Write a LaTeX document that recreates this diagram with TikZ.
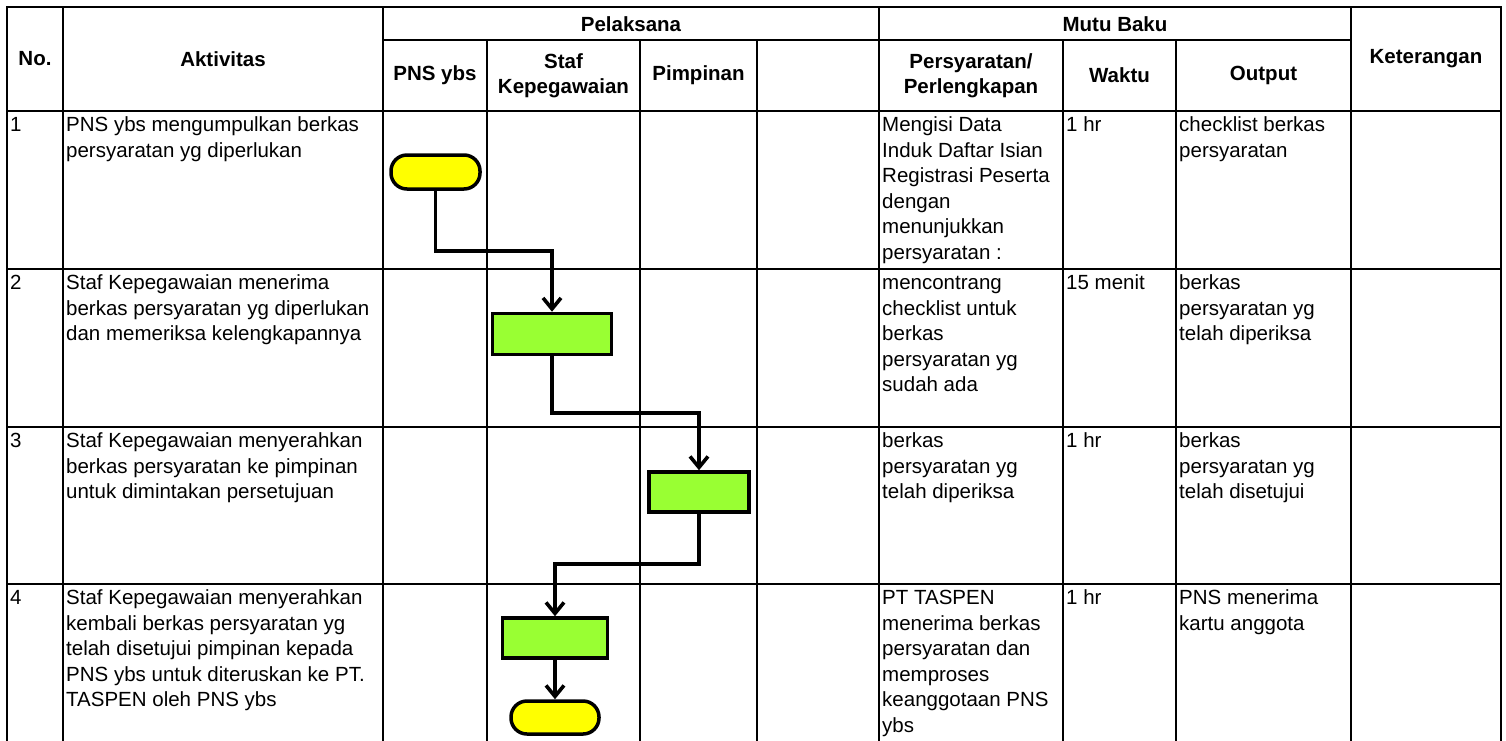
\documentclass[tikz,border=0pt]{standalone}
\usepackage{fontspec}
\setmainfont{Liberation Sans}
\usetikzlibrary{arrows.meta}
\definecolor{termyellow}{RGB}{255,255,0}
\definecolor{procgreen}{RGB}{153,255,51}
\newcommand{\cellbox}[1]{\parbox[t]{320pt}{#1}}
\begin{document}
\begin{tikzpicture}[x=1pt,y=-1pt,
  gridline/.style={line width=1.8pt, line cap=rect},
  hdr/.style={font=\fontsize{20.5}{25.5}\selectfont\bfseries, align=center, inner sep=0pt},
  cell/.style={anchor=base west, inner sep=0pt, font=\fontsize{20.5}{25.5}\selectfont},
  term/.style={draw, line width=3.5pt, fill=termyellow, rectangle, rounded corners=16pt, inner sep=0pt},
  proc/.style={draw, line width=3.5pt, fill=procgreen, rectangle, inner sep=0pt},
  conn/.style={line width=3.6pt, -{Straight Barb[length=11pt,width=18pt]}}
]
\useasboundingbox (0,0) rectangle (1506,740);
\fill[white] (0,0) rectangle (1506,740);

% grid
\draw[gridline] (7,7) -- (1501,7);
\draw[gridline] (383,40) -- (1351,40);
\foreach \yy in {111,269,427,584} \draw[gridline] (7,\yy) -- (1501,\yy);
\foreach \xx in {7,63,383,879,1351,1501} \draw[gridline] (\xx,7) -- (\xx,740);
\foreach \xx in {487,640,757,1063,1176} \draw[gridline] (\xx,40) -- (\xx,740);

% headers
\node[hdr] (hno) at (35,59) {No.};
\node[hdr] (hakt) at (223,59) {Aktivitas};
\node[hdr] (hpel) at (631,24) {Pelaksana};
\node[hdr] (hmutu) at (1115,24) {Mutu Baku};
\node[hdr] (hket) at (1426,59) {Keterangan};
\node[hdr] (hpns) at (435,75.5) {PNS ybs};
\node[hdr] (hstaf) at (563.5,75.5) {Staf\\Kepegawaian};
\node[hdr] (hpim) at (698.5,75.5) {Pimpinan};
\node[hdr] (hpers) at (971,75.5) {Persyaratan/\\Perlengkapan};
\node[hdr] (hwak) at (1119.5,75.5) {Waktu};
\node[hdr] (hout) at (1263.5,75.5) {Output};

% row 1
\node[cell] (n1) at (10,131.5) {1};
\node[cell] (a1) at (66,131.5) {\cellbox{PNS ybs mengumpulkan berkas\\persyaratan yg diperlukan}};
\node[cell] (p1) at (882,131.5) {\cellbox{Mengisi Data\\Induk Daftar Isian\\Registrasi Peserta\\dengan\\menunjukkan\\persyaratan :}};
\node[cell] (w1) at (1066,131.5) {1 hr};
\node[cell] (o1) at (1179,131.5) {\cellbox{checklist berkas\\persyaratan}};

% row 2
\node[cell] (n2) at (10,289.5) {2};
\node[cell] (a2) at (66,289.5) {\cellbox{Staf Kepegawaian menerima\\berkas persyaratan yg diperlukan\\dan memeriksa kelengkapannya}};
\node[cell] (p2) at (882,289.5) {\cellbox{mencontrang\\checklist untuk\\berkas\\persyaratan yg\\sudah ada}};
\node[cell] (w2) at (1066,289.5) {15 menit};
\node[cell] (o2) at (1179,289.5) {\cellbox{berkas\\persyaratan yg\\telah diperiksa}};

% row 3
\node[cell] (n3) at (10,447.5) {3};
\node[cell] (a3) at (66,447.5) {\cellbox{Staf Kepegawaian menyerahkan\\berkas persyaratan ke pimpinan\\untuk dimintakan persetujuan}};
\node[cell] (p3) at (882,447.5) {\cellbox{berkas\\persyaratan yg\\telah diperiksa}};
\node[cell] (w3) at (1066,447.5) {1 hr};
\node[cell] (o3) at (1179,447.5) {\cellbox{berkas\\persyaratan yg\\telah disetujui}};

% row 4
\node[cell] (n4) at (10,604.5) {4};
\node[cell] (a4) at (66,604.5) {\cellbox{Staf Kepegawaian menyerahkan\\kembali berkas persyaratan yg\\telah disetujui pimpinan kepada\\PNS ybs untuk diteruskan ke PT.\\TASPEN oleh PNS ybs}};
\node[cell] (p4) at (882,604.5) {\cellbox{PT TASPEN\\menerima berkas\\persyaratan dan\\memproses\\keanggotaan PNS\\ybs}};
\node[cell] (w4) at (1066,604.5) {1 hr};
\node[cell] (o4) at (1179,604.5) {\cellbox{PNS menerima\\kartu anggota}};

% flow shapes
\node[term, minimum width=89pt, minimum height=34pt] (t1) at (435.5,172) {};
\node[proc, minimum width=119pt, minimum height=41pt] (r1) at (552,334) {};
\node[proc, minimum width=100pt, minimum height=40pt] (r2) at (699,492) {};
\node[proc, minimum width=105pt, minimum height=40pt] (r3) at (555,638) {};
\node[term, minimum width=88pt, minimum height=33pt] (t2) at (555,717.5) {};

% connectors
\coordinate (k1) at (435.5,251);
\coordinate (k2) at (552,413);
\coordinate (k3) at (699,564);
\draw[conn] (t1.south) -- (k1) -| (r1.north);
\draw[conn] (r1.south) -- (k2) -| (r2.north);
\draw[conn] (r2.south) -- (k3) -| (r3.north);
\draw[conn] (r3.south) -- (t2.north);
\end{tikzpicture}
\end{document}
